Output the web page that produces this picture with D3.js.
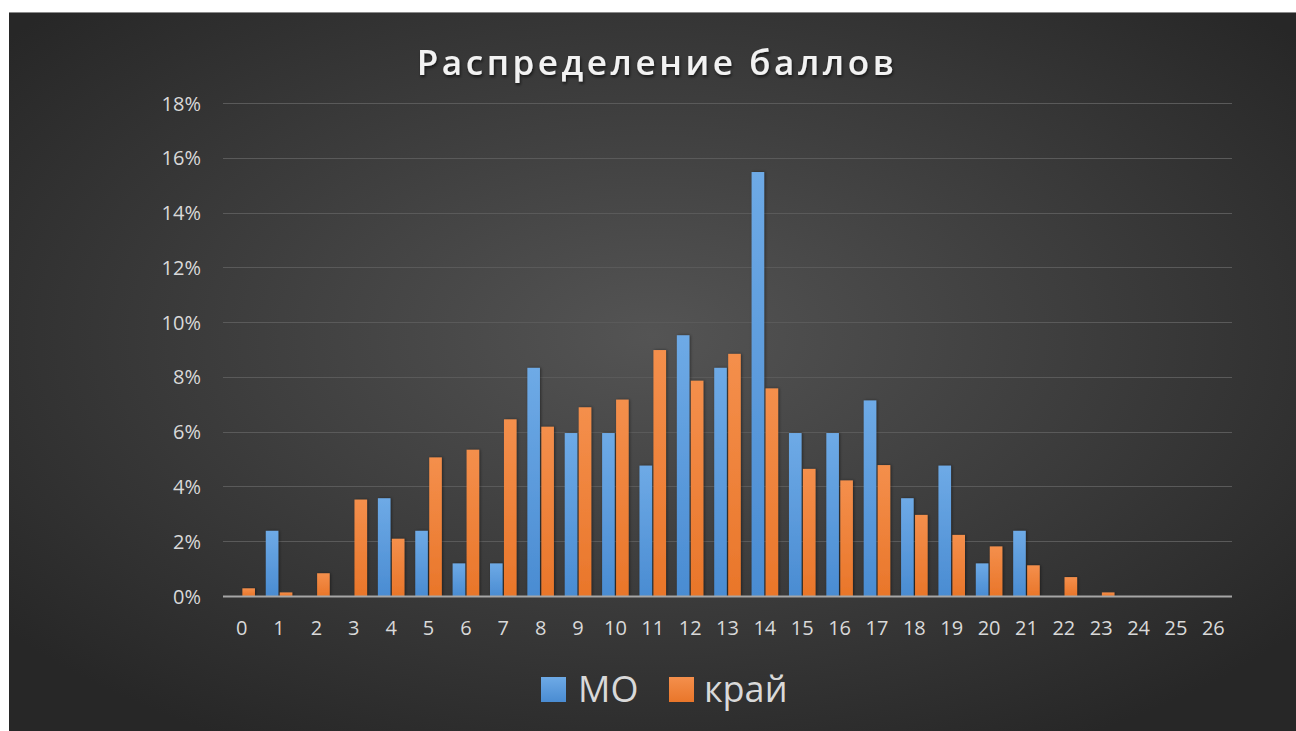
<!DOCTYPE html>
<html>
<head>
<meta charset="utf-8">
<script src="https://cdn.jsdelivr.net/npm/d3@7"></script>
<style>
  body { margin: 0; background: #fff; }
  svg { display: block; }
</style>
</head>
<body>
<script>
// баллы 0..26
const scores = d3.range(0, 27).map(String);
const seriesNames = ["МО", "край"];
// доли, %
const moValues = [0, 2.38, 0, 0, 3.57, 2.38, 1.19, 1.19, 8.33, 5.95, 5.95, 4.76, 9.52, 8.33, 15.48,
    5.95, 5.95, 7.14, 3.57, 4.76, 1.19, 2.38, 0, 0, 0, 0, 0];
const kraiValues = [0.28, 0.13, 0.83, 3.52, 2.09, 5.06, 5.34, 6.45, 6.18, 6.89, 7.17, 8.98, 7.86, 8.84, 7.58,
    4.64, 4.22, 4.78, 2.96, 2.23, 1.81, 1.12, 0.69, 0.13, 0, 0, 0];
const yTicks = [0, 2, 4, 6, 8, 10, 12, 14, 16, 18];

const width = 1296, height = 731;
const svg = d3.select("body").append("svg").attr("width", width).attr("height", height);
const defs = svg.append("defs");

let bg = defs.append("radialGradient").attr("id", "bg")
    .attr("cx", "50%").attr("cy", "45%").attr("r", "65%");
bg.append("stop").attr("offset", "0%").attr("stop-color", "#545454");
bg.append("stop").attr("offset", "100%").attr("stop-color", "#272727");

function barGradient(id, top, bottom) {
    let g = defs.append("linearGradient").attr("id", id)
        .attr("x1", "0%").attr("y1", "0%").attr("x2", "0%").attr("y2", "100%");
    g.append("stop").attr("offset", "0%").attr("stop-color", top);
    g.append("stop").attr("offset", "100%").attr("stop-color", bottom);
}
barGradient("g-mo", "#6eaae6", "#4a8cd2");
barGradient("g-krai", "#f48f4c", "#e9762a");
const fills = { "МО": "url(#g-mo)", "край": "url(#g-krai)" };

let shadow = defs.append("filter").attr("id", "shadow")
    .attr("x", "-30%").attr("y", "-10%").attr("width", "160%").attr("height", "120%");
shadow.append("feDropShadow").attr("dx", 1).attr("dy", 0).attr("stdDeviation", 1.5)
    .attr("flood-color", "#000").attr("flood-opacity", 0.45);

let tshadow = defs.append("filter").attr("id", "tshadow");
tshadow.append("feDropShadow").attr("dx", 1).attr("dy", 2).attr("stdDeviation", 1.5)
    .attr("flood-color", "#000").attr("flood-opacity", 0.6);

// панель
svg.append("rect").attr("x", 9).attr("y", 12).attr("width", width - 9).attr("height", height - 12)
    .attr("fill", "url(#bg)");
svg.append("line").attr("x1", 9).attr("x2", width).attr("y1", 12.5).attr("y2", 12.5)
    .attr("stroke", "#8a8a8a").attr("stroke-width", 1);

const x = d3.scaleBand(scores, [223, 1232]);
const bw = x.bandwidth();
const xs = d3.scaleBand(seriesNames, [bw * 0.145, bw * 0.855]).paddingInner(0.1);
const y = d3.scaleLinear([0, 18], [596, 103]);

// сетка
svg.append("g").selectAll("line").data(yTicks.filter(t => t > 0)).join("line")
    .attr("x1", 223).attr("x2", 1232)
    .attr("y1", d => Math.round(y(d)) + 0.5).attr("y2", d => Math.round(y(d)) + 0.5)
    .attr("stroke", "#5a5a5a").attr("stroke-width", 1);

const yAxis = svg.append("g").attr("transform", "translate(201,0)")
    .call(d3.axisLeft(y).tickValues(yTicks).tickFormat(d => d + "%").tickSize(0).tickPadding(0));
yAxis.select(".domain").remove();
yAxis.selectAll("text").attr("fill", "#d9d9d9").attr("dy", "0.35em")
    .style("font", "20px 'Open Sans', sans-serif");

// столбцы
const rows = scores.map((s, i) => ({ score: s, "МО": moValues[i], "край": kraiValues[i] }));
svg.append("g").selectAll("g").data(rows).join("g")
    .attr("transform", d => `translate(${x(d.score)},0)`)
    .selectAll("rect").data(d => seriesNames.map(k => ({ key: k, value: d[k] })).filter(d => d.value > 0))
    .join("rect")
    .attr("x", d => xs(d.key))
    .attr("width", xs.bandwidth())
    .attr("y", d => y(d.value))
    .attr("height", d => y(0) - y(d.value))
    .attr("fill", d => fills[d.key])
    .attr("filter", "url(#shadow)");

// ось X
svg.append("line").attr("x1", 223).attr("x2", 1232).attr("y1", 596.5).attr("y2", 596.5)
    .attr("stroke", "#a6a6a6").attr("stroke-width", 2);
const xAxis = svg.append("g").attr("transform", "translate(0,596)")
    .call(d3.axisBottom(x).tickSize(0).tickPadding(0));
xAxis.select(".domain").remove();
xAxis.selectAll("text").attr("fill", "#d9d9d9").attr("y", 39).attr("dy", 0)
    .style("font", "20px 'Open Sans', sans-serif");

// заголовок
const title = svg.append("text").attr("x", 657).attr("y", 75).attr("text-anchor", "middle")
    .attr("fill", "#f2f2f2").attr("filter", "url(#tshadow)")
    .style("font", "600 35px 'Open Sans', sans-serif")
    .text("Распределение баллов");
let tw = title.node().getComputedTextLength();
title.style("letter-spacing", ((477 - tw) / 19) + "px");

// легенда
const legend = [{ name: "МО", x: 541 }, { name: "край", x: 669 }];
const lg = svg.append("g").selectAll("g").data(legend).join("g")
    .attr("transform", d => `translate(${d.x},677)`);
lg.append("rect").attr("width", 25).attr("height", 25).attr("fill", d => fills[d.name]);
lg.append("text").attr("x", d => d.name === "МО" ? 37 : 35).attr("y", 25)
    .attr("fill", "#d9d9d9").style("font", "36px 'Open Sans', sans-serif")
    .text(d => d.name);
</script>
</body>
</html>
